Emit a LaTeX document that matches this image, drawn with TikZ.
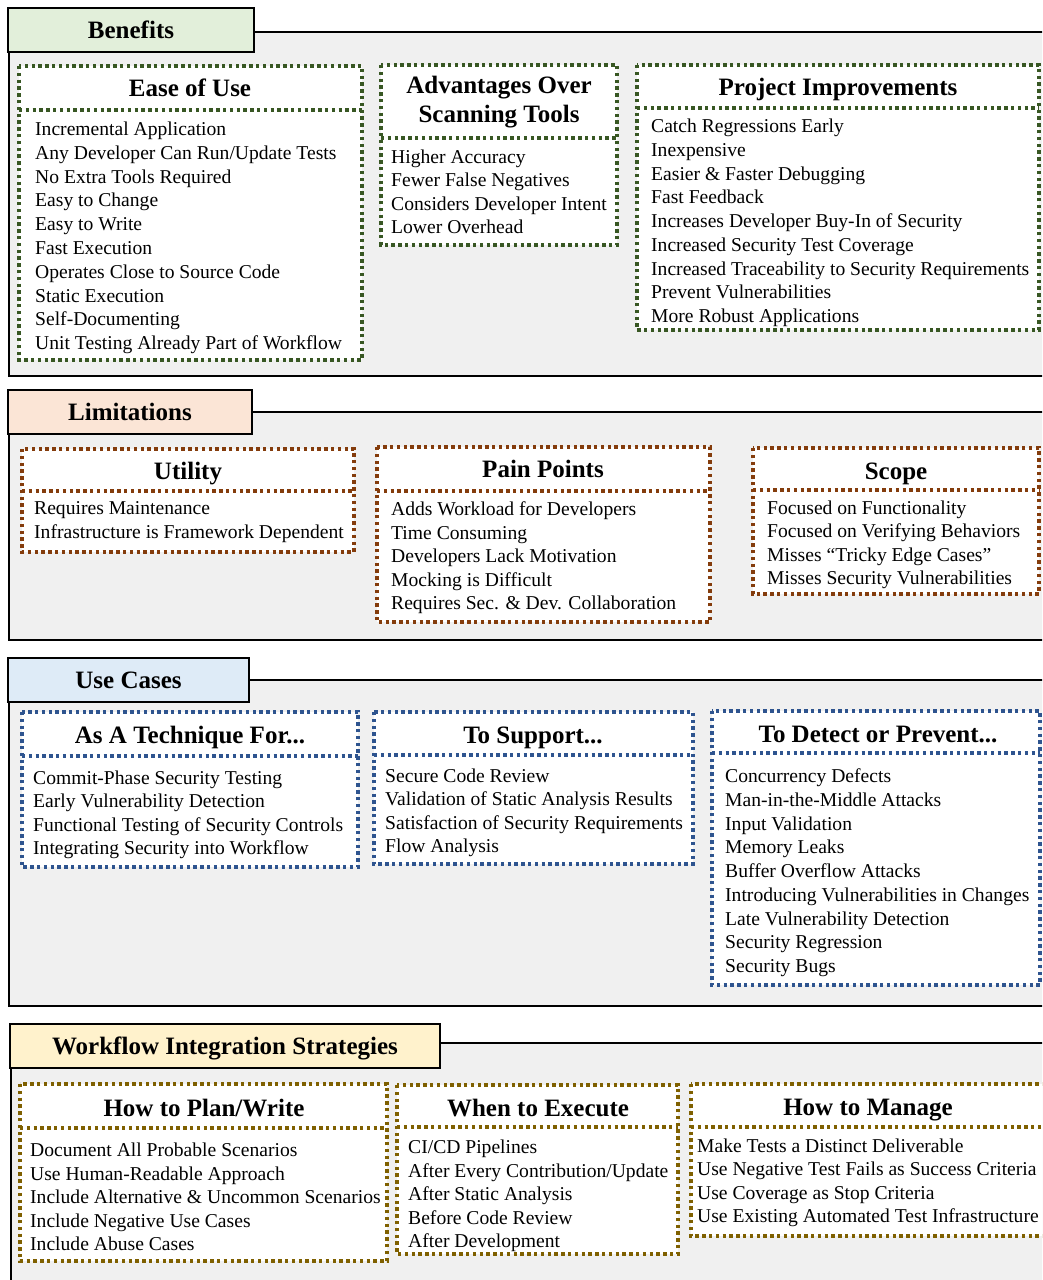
\documentclass[tikz,border=0pt]{standalone}
\usepackage{fontspec}
\setmainfont{Liberation Serif}
\definecolor{panelgray}{RGB}{240,240,240}
\definecolor{benefitfill}{RGB}{226,239,218}
\definecolor{limitfill}{RGB}{251,229,214}
\definecolor{usefill}{RGB}{222,235,247}
\definecolor{flowfill}{RGB}{255,242,204}
\definecolor{benefitline}{RGB}{56,87,35}
\definecolor{limitline}{RGB}{132,60,12}
\definecolor{useline}{RGB}{46,84,143}
\definecolor{flowline}{RGB}{127,96,0}

% list of entries, one node per line
\newcommand\itemlist[5]{%
  \foreach \t [count=\i from 0] in {#5}
    {\node[entry] (#1-\i) at ({#2},{#3+\i*#4}) {\t};}%
}

\begin{document}
\begin{tikzpicture}[x=1pt,y=-1pt,
  panel/.style={draw=black,line width=2.4pt,fill=panelgray},
  tabbox/.style={draw=black,line width=2.4pt,inner sep=0pt,minimum height=44pt,
    text height=16.5pt,text depth=0pt,
    font=\fontsize{25}{27}\selectfont\bfseries},
  card/.style={draw=#1,line width=3.4pt,dash pattern=on 3.4pt off 3.4pt,fill=white},
  split/.style={draw=#1,line width=3.4pt,dash pattern=on 3.4pt off 3.4pt},
  cardtitle/.style={font=\fontsize{25}{29}\selectfont\bfseries,align=center,inner sep=0pt},
  onetitle/.style={cardtitle,text height=16.5pt,text depth=0pt},
  entry/.style={font=\fontsize{19.6}{22}\selectfont,anchor=base west,inner sep=0pt}]
\useasboundingbox (0,0) rectangle (1042,1280);
\clip (0,0) rectangle (1042,1280);

% ---------------- Benefits ----------------
\path[panel] (9,32) rectangle (1060,376);
\node[tabbox,fill=benefitfill,minimum width=246pt] (benefits) at (131,30) {Benefits};

\path[card=benefitline] (19,66) rectangle (362,360);
\path[split=benefitline] (19,110) -- (362,110);
\node[onetitle] (ease) at (190,88) {Ease of Use};
\itemlist{ease}{35}{135.5}{23.8}{Incremental Application,Any Developer Can Run/Update Tests,No Extra Tools Required,Easy to Change,Easy to Write,Fast Execution,Operates Close to Source Code,Static Execution,Self-Documenting,Unit Testing Already Part of Workflow}

\path[card=benefitline] (381,65) rectangle (617,245);
\path[split=benefitline] (381,138) -- (617,138);
\node[cardtitle] (adv) at (499,102.5) {Advantages Over\\Scanning Tools};
\itemlist{adv}{391}{163.5}{23.3}{Higher Accuracy,Fewer False Negatives,Considers Developer Intent,Lower Overhead}

\path[card=benefitline] (637,65) rectangle (1039,330);
\path[split=benefitline] (637,108) -- (1039,108);
\node[onetitle] (proj) at (838,87) {Project Improvements};
\itemlist{proj}{651}{132.5}{23.75}{Catch Regressions Early,Inexpensive,Easier \& Faster Debugging,Fast Feedback,Increases Developer Buy-In of Security,Increased Security Test Coverage,Increased Traceability to Security Requirements,Prevent Vulnerabilities,More Robust Applications}

% ---------------- Limitations ----------------
\path[panel] (9,412) rectangle (1060,640);
\node[tabbox,fill=limitfill,minimum width=244pt] (limitations) at (130,412) {Limitations};

\path[card=limitline] (22,449) rectangle (354,552);
\path[split=limitline] (22,491) -- (354,491);
\node[onetitle] (utility) at (188,471) {Utility};
\itemlist{utility}{34}{514.5}{24}{Requires Maintenance,Infrastructure is Framework Dependent}

\path[card=limitline] (377,447) rectangle (710,622);
\path[split=limitline] (377,491) -- (710,491);
\node[onetitle] (pain) at (543,469.5) {Pain Points};
\itemlist{pain}{391}{515.5}{23.5}{Adds Workload for Developers,Time Consuming,Developers Lack Motivation,Mocking is Difficult,Requires Sec. \& Dev. Collaboration}

\path[card=limitline] (753,448) rectangle (1039,594);
\path[split=limitline] (753,490) -- (1039,490);
\node[onetitle] (scope) at (896,471) {Scope};
\itemlist{scope}{767}{514.5}{23.3}{Focused on Functionality,Focused on Verifying Behaviors,Misses “Tricky Edge Cases”,Misses Security Vulnerabilities}

% ---------------- Use Cases ----------------
\path[panel] (9,680) rectangle (1060,1006);
\node[tabbox,fill=usefill,minimum width=241pt] (usecases) at (128.5,680) {Use Cases};

\path[card=useline] (22,712) rectangle (358,867);
\path[split=useline] (22,756) -- (358,756);
\node[onetitle] (tech) at (190,735) {As A Technique For...};
\itemlist{tech}{33}{784.5}{23.4}{Commit-Phase Security Testing,Early Vulnerability Detection,Functional Testing of Security Controls,Integrating Security into Workflow}

\path[card=useline] (374,712) rectangle (693,864);
\path[split=useline] (374,755) -- (693,755);
\node[onetitle] (support) at (533,735) {To Support...};
\itemlist{support}{385}{782.5}{23.4}{Secure Code Review,Validation of Static Analysis Results,Satisfaction of Security Requirements,Flow Analysis}

\path[card=useline] (712,711) rectangle (1040,985);
\path[split=useline] (712,753) -- (1040,753);
\node[onetitle] (detect) at (878,734) {To Detect or Prevent...};
\itemlist{detect}{725}{782.5}{23.75}{Concurrency Defects,Man-in-the-Middle Attacks,Input Validation,Memory Leaks,Buffer Overflow Attacks,Introducing Vulnerabilities in Changes,Late Vulnerability Detection,Security Regression,Security Bugs}

% ---------------- Workflow Integration Strategies ----------------
\path[panel] (11,1043) rectangle (1060,1310);
\node[tabbox,fill=flowfill,minimum width=430pt] (workflow) at (225,1046) {Workflow Integration Strategies};

\path[card=flowline] (20,1084) rectangle (387,1261);
\path[split=flowline] (20,1128) -- (387,1128);
\node[onetitle] (plan) at (204,1108) {How to Plan/Write};
\itemlist{plan}{30}{1156.5}{23.5}{Document All Probable Scenarios,Use Human-Readable Approach,Include Alternative \& Uncommon Scenarios,Include Negative Use Cases,Include Abuse Cases}

\path[card=flowline] (397,1085) rectangle (678,1254);
\path[split=flowline] (397,1127) -- (678,1127);
\node[onetitle] (exec) at (538,1108) {When to Execute};
\itemlist{exec}{408}{1153.5}{23.5}{CI/CD Pipelines,After Every Contribution/Update,After Static Analysis,Before Code Review,After Development}

\path[card=flowline] (691,1084) rectangle (1046,1236);
\path[split=flowline] (691,1127) -- (1046,1127);
\node[onetitle] (manage) at (868,1107) {How to Manage};
\itemlist{manage}{697}{1152.5}{23.3}{Make Tests a Distinct Deliverable,Use Negative Test Fails as Success Criteria,Use Coverage as Stop Criteria,Use Existing Automated Test Infrastructure}
\end{tikzpicture}
\end{document}
